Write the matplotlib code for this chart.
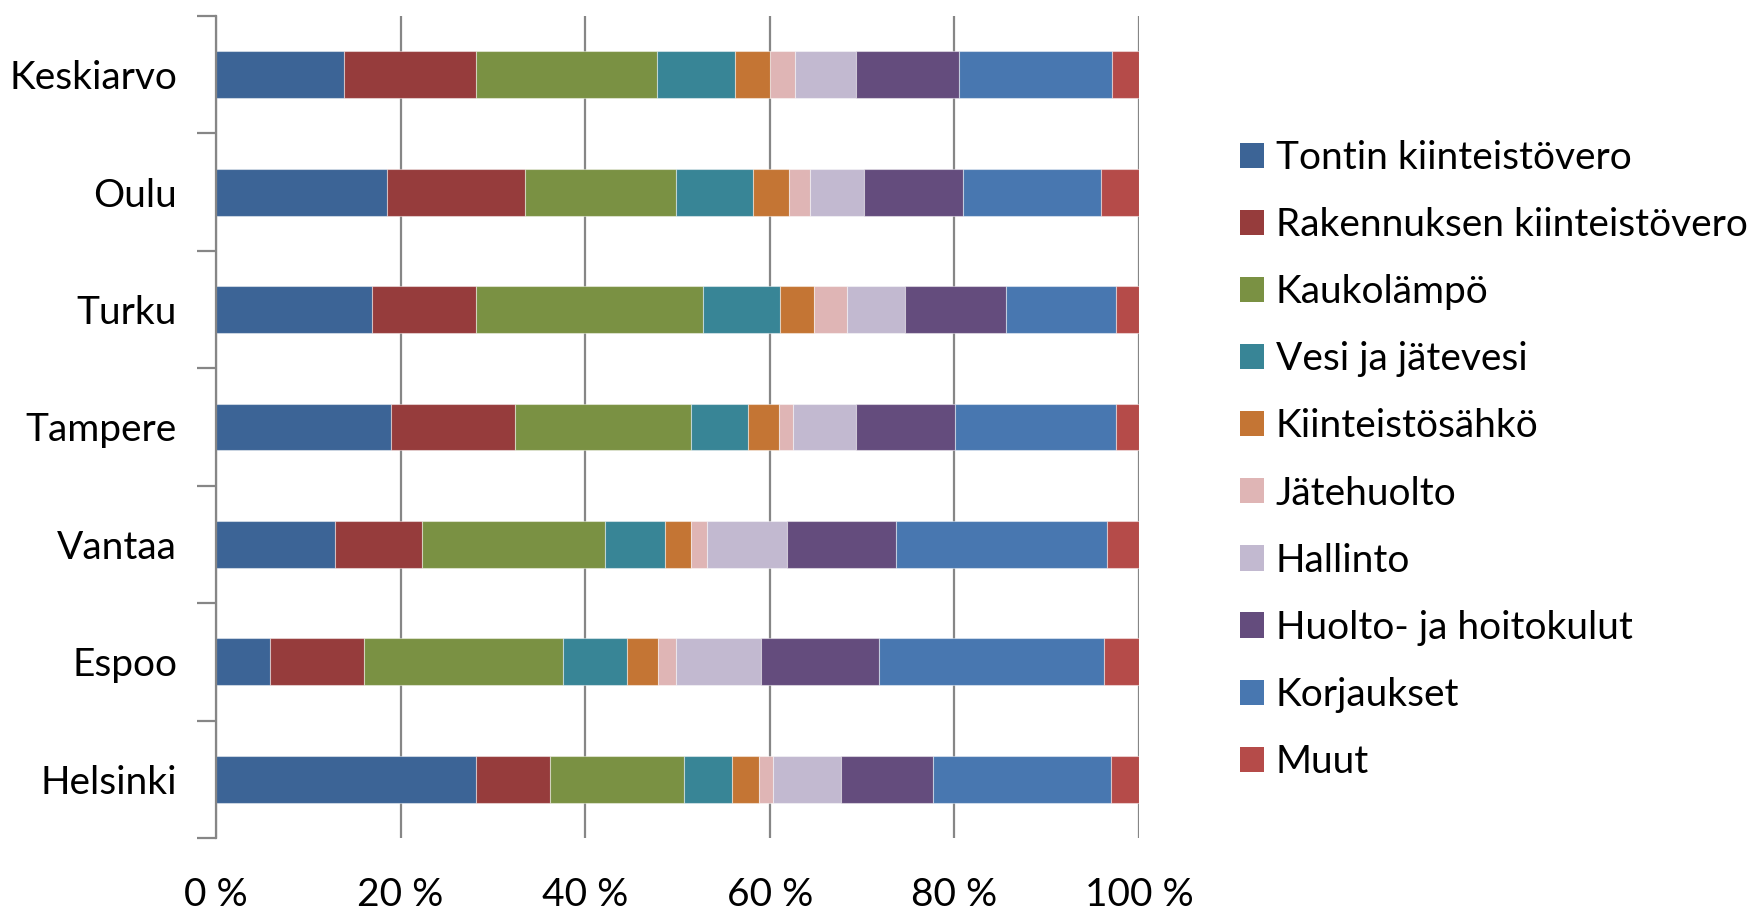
import matplotlib
matplotlib.use("Agg")
import matplotlib.pyplot as plt
import numpy as np
from matplotlib.ticker import FixedLocator

cities = ["Keskiarvo", "Oulu", "Turku", "Tampere", "Vantaa", "Espoo", "Helsinki"]
series = ["Tontin kiinteistövero", "Rakennuksen kiinteistövero", "Kaukolämpö",
          "Vesi ja jätevesi", "Kiinteistösähkö", "Jätehuolto", "Hallinto",
          "Huolto- ja hoitokulut", "Korjaukset", "Muut"]
colors = ["#3C6496", "#963C3C", "#7A9143", "#388596", "#C47534",
          "#DFB5B5", "#C2B9D0", "#644C7D", "#4877B0", "#B54B49"]

# values per city (percent), in series order
keskiarvo = [13.9, 14.3, 19.6, 8.4, 3.85, 2.65, 6.6, 11.2, 16.6, 2.9]
oulu      = [18.5, 15.0, 16.35, 8.35, 3.9, 2.3, 5.8, 10.7, 15.0, 4.1]
turku     = [16.9, 11.3, 24.6, 8.3, 3.7, 3.6, 6.2, 11.0, 11.9, 2.5]
tampere   = [19.0, 13.4, 19.05, 6.15, 3.45, 1.45, 6.8, 10.8, 17.4, 2.5]
vantaa    = [12.9, 9.4, 19.85, 6.45, 2.85, 1.8, 8.65, 11.8, 22.8, 3.5]
espoo     = [5.85, 10.15, 21.6, 6.95, 3.35, 1.9, 9.2, 12.8, 24.45, 3.75]
helsinki  = [28.2, 8.0, 14.55, 5.15, 2.9, 1.55, 7.35, 9.95, 19.35, 3.0]

x_ticks = [0, 20, 40, 60, 80, 100]
x_labels = ["0 %", "20 %", "40 %", "60 %", "80 %", "100 %"]

data = np.array([keskiarvo, oulu, turku, tampere, vantaa, espoo, helsinki])

plt.rcParams['font.family'] = ['Lato', 'DejaVu Sans']
FS = 28

fig = plt.figure(figsize=(17.56, 9.10), dpi=100)
ax = fig.add_axes([216/1756, 1 - 838/910, (1139 - 216)/1756, (838 - 16)/910])

n = len(cities)
ypos = np.arange(n)[::-1]  # Keskiarvo on top
left = np.zeros(n)
handles = []
for j, name in enumerate(series):
    vals = data[:, j]
    b = ax.barh(ypos, vals, left=left, height=0.4, color=colors[j],
                edgecolor=(1, 1, 1, 0.45), linewidth=0.8, label=name, zorder=3)
    handles.append(b)
    left += vals

ax.set_xlim(0, 100)
ax.set_ylim(-0.5, n - 0.5)

ax.set_xticks(x_ticks)
ax.set_xticklabels(x_labels, fontsize=FS)
ax.tick_params(axis='x', length=0, pad=28)
ax.grid(axis='x', color='#868686', linewidth=1.6, zorder=0)

bounds = np.arange(-0.5, n, 1.0)
ax.yaxis.set_major_locator(FixedLocator(bounds))
ax.set_yticklabels([""] * len(bounds))
ax.yaxis.set_minor_locator(FixedLocator(ypos))
ax.set_yticklabels(cities, minor=True, fontsize=FS)
ax.tick_params(axis='y', which='major', length=14, width=1.6, color='#868686', direction='out')
ax.tick_params(axis='y', which='minor', length=0, pad=28)

for s in ['top', 'right', 'bottom']:
    ax.spines[s].set_visible(False)
ax.spines['left'].set_color('#868686')
ax.spines['left'].set_linewidth(1.6)
ax.spines['left'].set_zorder(4)

leg = fig.legend(handles=handles, labels=series, loc='center left',
                 bbox_to_anchor=(1240/1756, 1 - 460/910), frameon=False,
                 fontsize=FS, handlelength=0.62, handleheight=0.62,
                 handletextpad=0.3, labelspacing=0.8, borderpad=0, borderaxespad=0)
for p in leg.get_patches():
    p.set_edgecolor('none')

fig.savefig("out.png", dpi=100)
